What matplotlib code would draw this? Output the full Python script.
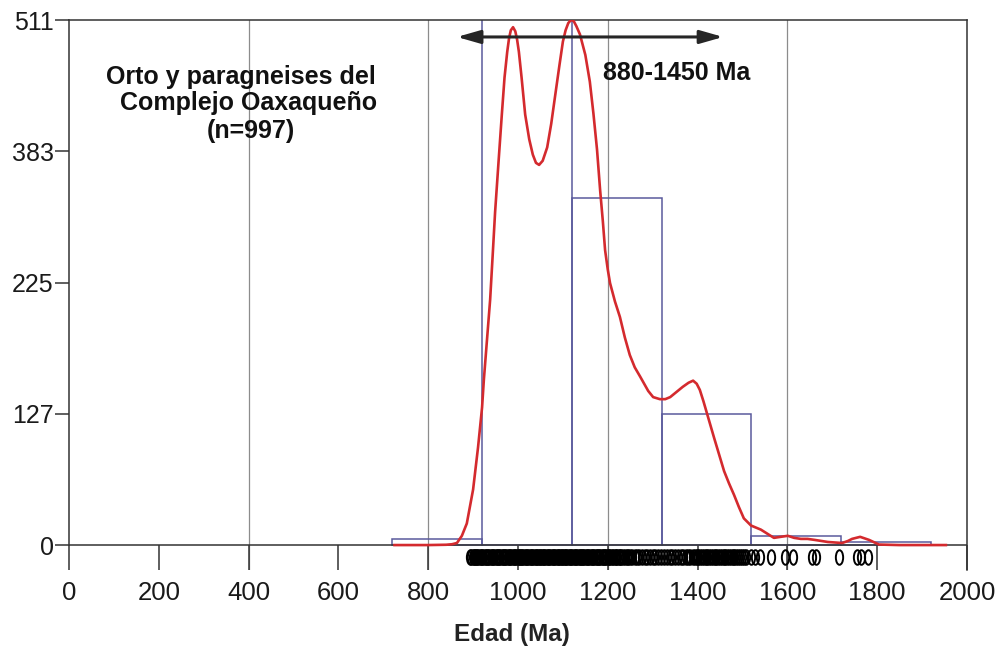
import numpy as np
import matplotlib
matplotlib.use('Agg')
from matplotlib import pyplot as plt
from matplotlib.path import Path
from matplotlib.markers import MarkerStyle
from matplotlib.transforms import Affine2D

plt.rcParams['font.family'] = ['Liberation Sans', 'DejaVu Sans']

# histogram of ages (Ma)
bin_edges = [720, 920, 1120, 1320, 1520, 1720, 1920]
counts = [6, 513, 338, 128, 9, 3]

# probability density curve, scaled to counts
kde_age = [725, 800, 840, 853, 864, 875, 886, 900, 911, 920, 924, 931, 938, 944,
           949, 957, 964, 970, 976, 980, 984, 989, 994, 998, 1002, 1008, 1016, 1025,
           1033, 1040, 1047, 1055, 1065, 1074, 1082, 1092, 1100, 1106, 1112, 1118,
           1124, 1130, 1138, 1150, 1160, 1168, 1176, 1183, 1189, 1194, 1200, 1205,
           1216, 1227, 1238, 1249, 1260, 1272, 1290, 1301, 1316, 1328, 1339, 1353,
           1367, 1380, 1390, 1398, 1405, 1413, 1421, 1429, 1437, 1448, 1459, 1470,
           1481, 1492, 1503, 1519, 1541, 1570, 1585, 1601, 1615, 1630, 1645, 1661,
           1690, 1722, 1735, 1744, 1762, 1782, 1804, 1849, 1953]
kde_val = [0, 0, 0.3, 0.8, 2, 9, 21, 54, 95, 134, 161, 200, 239, 285,
           324, 375, 419, 455, 480, 493, 501, 504, 500, 492, 480, 455, 419, 395,
           380, 372, 370, 374, 387, 410, 435, 466, 490, 501, 508, 511,
           510, 505, 497, 477, 451, 420, 385, 345, 315, 287, 268, 255,
           237, 222, 202, 185, 173, 164, 150, 144, 142, 142, 144, 149,
           154, 158, 160, 157, 151, 140, 128, 116, 104, 88, 72, 60,
           49, 37, 26, 19, 15, 7, 8, 9, 7, 6, 6, 5,
           3, 2, 4, 6, 8, 5, 0.5, 0, 0]

# individual analyses shown below the axis
rug_ages = [
    893, 896, 899, 901, 904, 907, 909, 912, 915, 918, 920, 923, 926, 928, 931,
    934, 936, 939, 942, 945, 947, 950, 953, 955, 958, 961, 964, 966, 969, 972,
    974, 977, 980, 983, 985, 988, 991, 993, 996, 999, 1002, 1004, 1007, 1010, 1012,
    1015, 1018, 1021, 1023, 1026, 1029, 1031, 1034, 1037, 1040, 1042, 1045, 1048, 1050, 1053,
    1056, 1059, 1061, 1064, 1067, 1069, 1072, 1075, 1078, 1080, 1083, 1086, 1088, 1091, 1094,
    1097, 1099, 1102, 1105, 1107, 1110, 1113, 1116, 1118, 1121, 1124, 1126, 1129, 1132, 1135,
    1137, 1140, 1143, 1145, 1148, 1151, 1154, 1156, 1159, 1162, 1164, 1167, 1170, 1173, 1175,
    1178, 1181, 1183, 1186, 1189, 1192, 1194, 1197, 1200, 1203, 1206, 1209, 1212, 1215, 1218,
    1221, 1224, 1227, 1230, 1234, 1238, 1242, 1246, 1250, 1255, 1260, 1265, 1270, 1276, 1282,
    1288, 1293, 1300, 1305, 1312, 1318, 1325, 1331, 1338, 1344, 1350, 1357, 1363, 1368, 1374,
    1379, 1384, 1389, 1394, 1398, 1402, 1406, 1410, 1414, 1418, 1422, 1426, 1430, 1434, 1438,
    1442, 1446, 1450, 1454, 1458, 1462, 1466, 1470, 1474, 1478, 1482, 1486, 1490, 1494, 1498,
    1503, 1508, 1520, 1528, 1539, 1563, 1595, 1612, 1655, 1664, 1714, 1754, 1764, 1780]

ytick_pos = [0, 127.75, 255.5, 383.25, 511]
ytick_labels = ['0', '127', '225', '383', '511']
xticks = list(range(0, 2001, 200))

fig = plt.figure(figsize=(9.97, 6.54), dpi=100)
ax = fig.add_axes([0.0692, 0.1284, 0.9007, 0.841])
ax.set_xlim(0, 2000)
ax.set_ylim(-24.3, 511)

for x in (400, 800, 1200, 1600):
    ax.axvline(x, color='#8c8c8c', lw=0.9, zorder=1)

ax.bar(bin_edges[:-1], counts, width=np.diff(bin_edges), align='edge',
       fill=False, edgecolor='#5a5a9c', lw=1.1, zorder=2)
ax.axhline(0, color='#333333', lw=1.1, zorder=3)
ax.plot(kde_age, kde_val, color='#d42a2e', lw=1.9, zorder=4)

# tall open ellipse marker for each age
ell = Affine2D().scale(0.5, 1.0).transform_path(Path.unit_circle())
ax.plot(rug_ages, [-11.7] * len(rug_ages), ls='none', marker=MarkerStyle(ell),
        ms=10.5, mfc='none', mec='black', mew=1.4, zorder=5)

ax.annotate('', xy=(864, 494.5), xytext=(1457, 494.5),
            arrowprops=dict(arrowstyle='<|-|>,head_length=0.7,head_width=0.2',
                            color='#262626', lw=2.2, mutation_scale=20,
                            shrinkA=0, shrinkB=0), zorder=6)

tkw = dict(ha='center', va='center', fontsize=18, fontweight='bold', color='#111111')
ax.text(383, 456, 'Orto y paragneises del', **tkw)
ax.text(401, 430, 'Complejo Oaxaqueño', **tkw)
ax.text(404, 403, '(n=997)', **tkw)
ax.text(1354, 459, '880-1450 Ma', **tkw)

for side in ('top', 'right', 'left'):
    ax.spines[side].set_color('#333333')
    ax.spines[side].set_linewidth(1.1)
ax.spines['bottom'].set_visible(False)
ax.spines['left'].set_bounds(0, 511)

ax.set_yticks(ytick_pos)
ax.set_yticklabels(ytick_labels)
ax.set_xticks(xticks)
ax.set_xticklabels([str(v) for v in xticks])
ax.tick_params(axis='y', direction='out', length=10, width=1.1, pad=1,
               labelsize=18, color='#333333', labelcolor='#1a1a1a')
ax.tick_params(axis='x', direction='in', length=18, width=1.1, pad=8,
               labelsize=18.5, color='#333333', labelcolor='#1a1a1a')

fig.text(0.5135, 1 - 635 / 654, 'Edad (Ma)', ha='center', va='center',
         fontsize=17.5, fontweight='bold', color='#222222')

fig.savefig('out.png', dpi=100)
